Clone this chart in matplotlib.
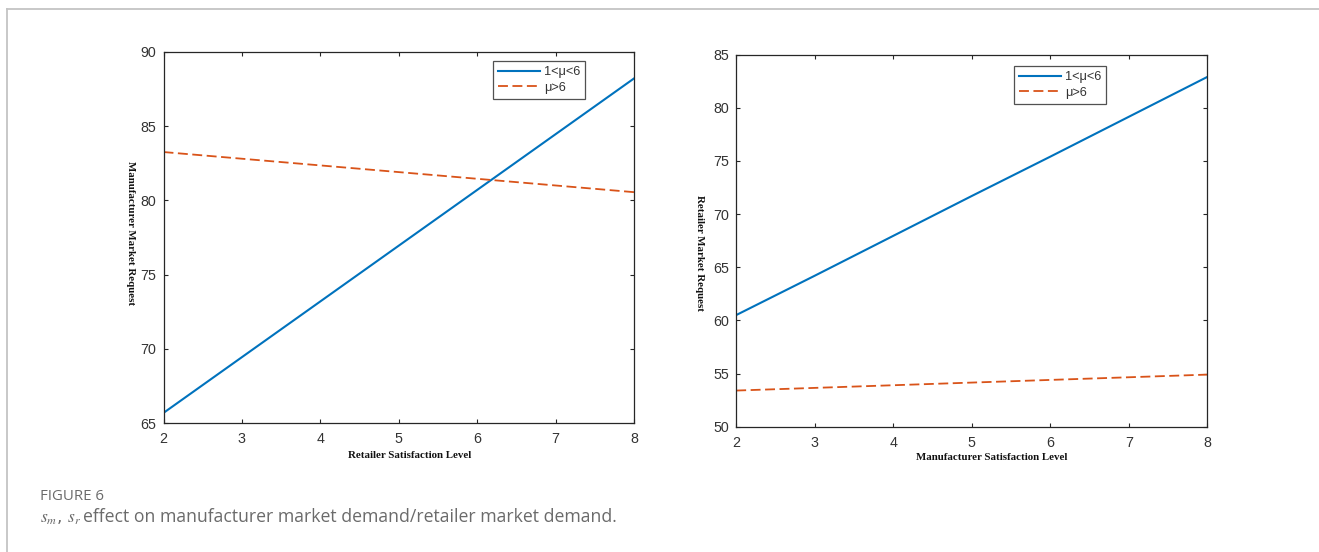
import matplotlib
matplotlib.use("Agg")
import matplotlib.pyplot as plt
from matplotlib.lines import Line2D

# Satisfaction levels on the horizontal axis
sat_levels = [2, 3, 4, 5, 6, 7, 8]

# Manufacturer market request vs retailer satisfaction level
manu_low_mu = [65.7, 69.45, 73.2, 76.95, 80.7, 84.45, 88.2]
manu_high_mu = [83.25, 82.8, 82.35, 81.9, 81.45, 81.0, 80.55]

# Retailer market request vs manufacturer satisfaction level
ret_low_mu = [60.5, 64.2, 67.95, 71.7, 75.4, 79.15, 82.9]
ret_high_mu = [53.4, 53.65, 53.9, 54.15, 54.4, 54.65, 54.9]

series_labels = ["1<\u03bc<6", "\u03bc>6"]
left_xlabel = "Retailer Satisfaction Level"
left_ylabel = "Manufacturer Market Request"
right_xlabel = "Manufacturer Satisfaction Level"
right_ylabel = "Retailer Market Request"
left_yticks = [65, 70, 75, 80, 85, 90]
right_yticks = [50, 55, 60, 65, 70, 75, 80, 85]
xticks = [2, 3, 4, 5, 6, 7, 8]

tick_font = "Liberation Sans"
serif_font = "Liberation Serif"

BLUE = "#0072BD"
ORANGE = "#D95319"
AX_COLOR = "#262626"

W, H = 1319, 552
fig = plt.figure(figsize=(W / 100, H / 100), dpi=100)
fig.patch.set_facecolor("white")


def fx(px):
    return px / W


def fy(py):
    return 1 - py / H


# page frame lines
fig.add_artist(Line2D([fx(6.5), 1.0], [fy(9.3), fy(9.3)], color="#c4c4c4", lw=1.3))
fig.add_artist(Line2D([fx(6.5), fx(6.5)], [fy(9.3), 0.0], color="#c4c4c4", lw=1.3))


def make_panel(box, y1, y2, yticks, ylim, xlabel, ylabel, xlab_pos, ylab_pos, leg_anchor):
    x0, y0, x1, y1px = box
    ax = fig.add_axes([fx(x0), fy(y1px), fx(x1) - fx(x0), fy(y0) - fy(y1px)])
    ax.plot(sat_levels, y1, color=BLUE, lw=1.5, label=series_labels[0])
    ax.plot(sat_levels, y2, color=ORANGE, lw=1.3, ls=(0, (5.5, 2.5)), label=series_labels[1])
    ax.set_xlim(2, 8)
    ax.set_ylim(*ylim)
    ax.set_xticks(xticks)
    ax.set_yticks(yticks)
    ax.tick_params(direction="in", top=True, right=True, length=3.2, width=0.8,
                   colors=AX_COLOR, labelsize=10.3)
    ax.tick_params(axis="x", pad=6.5)
    ax.tick_params(axis="y", pad=5)
    for lab in ax.get_xticklabels() + ax.get_yticklabels():
        lab.set_fontfamily(tick_font)
        lab.set_color("#333333")
    for sp in ax.spines.values():
        sp.set_color(AX_COLOR)
        sp.set_linewidth(0.9)
    leg = ax.legend(loc="upper right", bbox_to_anchor=leg_anchor, frameon=True,
                    fancybox=False, edgecolor=AX_COLOR, handlelength=3.3,
                    handletextpad=0.25, borderpad=0.4, labelspacing=0.3,
                    borderaxespad=0.0, prop={"family": tick_font, "size": 9.2})
    leg.get_frame().set_linewidth(0.9)
    for t in leg.get_texts():
        t.set_color("#333333")
    fig.text(fx(xlab_pos[0]), fy(xlab_pos[1]), xlabel, ha="center", va="center",
             fontsize=7.8, fontweight="bold", family=serif_font, color="#111111")
    fig.text(fx(ylab_pos[0]), fy(ylab_pos[1]), ylabel, ha="center", va="center",
             rotation=-90, fontsize=7.8, fontweight="bold", family=serif_font, color="#111111")
    return ax


ax_l = make_panel((163.5, 51.7, 634, 423.3),
                  manu_low_mu, manu_high_mu, left_yticks, (65, 90),
                  left_xlabel, left_ylabel, (410, 456), (130.5, 233),
                  ((585 - 163.5) / 470.5, (423.3 - 61) / 371.6))

ax_r = make_panel((736.2, 54.6, 1207.3, 426.7),
                  ret_low_mu, ret_high_mu, right_yticks, (50, 85),
                  right_xlabel, right_ylabel, (992, 458), (699, 253),
                  ((1106 - 736.2) / 471.1, (426.7 - 66) / 372.1))

# caption
fig.text(fx(40), fy(496), "FIGURE 6", ha="left", va="center", fontsize=10.8,
         family="Open Sans", color="#6b6b6b")
fig.text(fx(40), fy(518), r"$s_m$, $s_r$", ha="left", va="center", fontsize=12.5,
         color="#6b6b6b", math_fontfamily="stix")
fig.text(fx(83), fy(517), "effect on manufacturer market demand/retailer market demand.",
         ha="left", va="center", fontsize=12.7, family="Open Sans", color="#6b6b6b")

fig.savefig("out.png", dpi=100, facecolor="white")
